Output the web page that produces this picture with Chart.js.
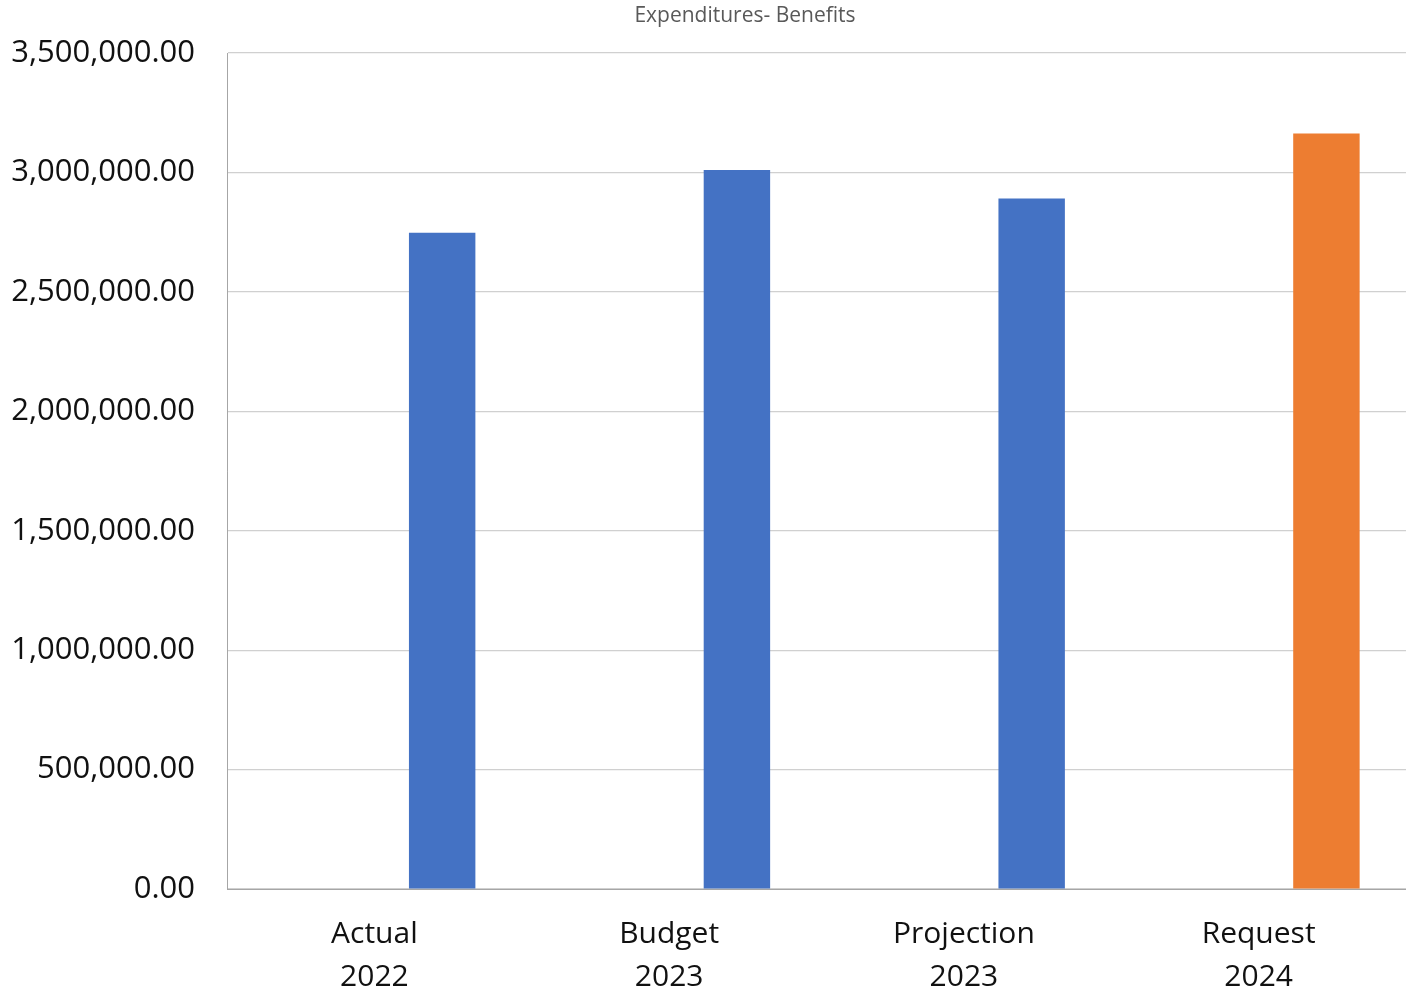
<!DOCTYPE html>
<html>
<head>
<meta charset="utf-8">
<title>Expenditures- Benefits</title>
<script src="https://cdn.jsdelivr.net/npm/chart.js@4.4.1/dist/chart.umd.min.js"></script>
<style>
  html, body { margin: 0; padding: 0; background: #fff; }
  #wrap { width: 1406px; height: 988px; position: relative; }
</style>
</head>
<body>
<div id="wrap"><canvas id="benefitsChart"></canvas></div>
<script>
// Category labels (two lines each)
const periods = ["Actual", "Budget", "Projection", "Request"];
const years = ["2022", "2023", "2023", "2024"];

// Bar values
const emptySeries = [null, null, null, null];
const benefits = [2747000, 3010000, 2891000, 3163000];

// Y axis ticks
const yMin = 0;
const yMax = 3500000;
const yStep = 500000;

const chartTitle = 'Expenditures- Benefits';

const blue = '#4472c4';
const orange = '#ed7d31';
const barColors = [blue, blue, blue, orange];

const ctx = document.getElementById('benefitsChart').getContext('2d');

Chart.defaults.font.family = "'Open Sans', 'Liberation Sans', sans-serif";

// Title sits a bit right of the canvas centre, like the original
const titlePlugin = {
  id: 'offsetTitle',
  afterDraw(c) {
    const g = c.ctx;
    g.save();
    g.font = "21px 'Open Sans', 'Liberation Sans', sans-serif";
    g.fillStyle = '#595959';
    g.textAlign = 'center';
    g.textBaseline = 'middle';
    g.fillText(chartTitle, 745, 16);
    g.restore();
  },
};

const chart = new Chart(ctx, {
  type: 'bar',
  data: {
    labels: periods.map((p, i) => [p, years[i]]),
    datasets: [
      {
        label: 'Series 1',
        data: emptySeries,
        backgroundColor: blue,
      },
      {
        label: 'Benefits',
        data: benefits,
        backgroundColor: barColors,
      },
    ],
  },
  options: {
    responsive: true,
    maintainAspectRatio: false,
    animation: false,
    layout: { padding: { top: 53, left: 0, right: 0, bottom: 0 } },
    datasets: {
      bar: { categoryPercentage: 0.92, barPercentage: 0.49 },
    },
    plugins: {
      legend: { display: false },
      tooltip: { enabled: false },
      title: { display: false },
    },
    scales: {
      x: {
        grid: { display: false, drawTicks: false },
        border: { display: true, color: '#a6a6a6', width: 1 },
        ticks: {
          color: '#111',
          font: { size: 30, lineHeight: 1.43 },
          padding: 24,
          maxRotation: 0,
          autoSkip: false,
        },
        afterFit: (scale) => { scale.height = 99; },
      },
      y: {
        min: yMin,
        max: yMax,
        grid: { color: '#d0d0d0', lineWidth: 1.2, drawTicks: false },
        border: { display: true, color: '#a6a6a6', width: 1 },
        ticks: {
          stepSize: yStep,
          color: '#111',
          font: { size: 31 },
          padding: 32,
          callback: (v) => Number(v).toLocaleString('en-US', { minimumFractionDigits: 2, maximumFractionDigits: 2 }),
        },
        afterFit: (scale) => { scale.width = 227; },
      },
    },
  },
  plugins: [titlePlugin],
});
</script>
</body>
</html>
